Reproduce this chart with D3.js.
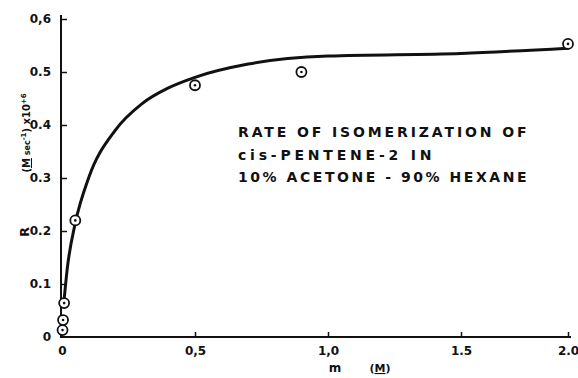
<!DOCTYPE html>
<html>
<head>
<meta charset="utf-8">
<script src="https://cdn.jsdelivr.net/npm/d3@7"></script>
<style>
  body { margin: 0; background: #fff; }
  svg { display: block; }
  text { font-family: "DejaVu Sans", "Liberation Sans", sans-serif; font-weight: bold; fill: #111; }
</style>
</head>
<body>
<div id="chart"></div>
<script>
// measured points (m in M, R in M sec^-1 x 10^6)
const pointM = [0.002, 0.004, 0.008, 0.05, 0.5, 0.9, 2.0];
const pointR = [0.013, 0.032, 0.064, 0.22, 0.475, 0.50, 0.553];

// smooth curve
const curveM = [0.006, 0.02, 0.05, 0.1, 0.2, 0.3, 0.4, 0.5, 0.7, 1.0, 1.5, 2.0];
const curveR = [0.06, 0.13, 0.215, 0.30, 0.39, 0.44, 0.47, 0.49, 0.515, 0.53, 0.535, 0.545];

const xTicks = [0, 0.5, 1.0, 1.5, 2.0];
const xTickLabels = ['0', '0,5', '1,0', '1.5', '2.0'];
const yTicks = [0, 0.1, 0.2, 0.3, 0.4, 0.5, 0.6];
const yTickLabels = ['0', '0.1', '0.2', '0.3', '0.4', '0.5', '0,6'];

const titleLines = ['RATE OF ISOMERIZATION OF', 'cis-PENTENE-2   IN', '10% ACETONE - 90% HEXANE'];

const width = 578, height = 378;

const svg = d3.select('#chart').append('svg')
  .attr('width', width)
  .attr('height', height);

// the hand-drawn axis is a bit compressed past 1.5
const x = d3.scaleLinear()
  .domain([0, 1.5, 2.0])
  .range([62, 461, 568]);

const y = d3.scaleLinear()
  .domain([0, 0.6])
  .range([337, 19]);

// axes
const xAxis = svg.append('g')
  .attr('transform', 'translate(0,' + y(0) + ')')
  .call(d3.axisBottom(x).tickValues(xTicks).tickSizeInner(-5).tickSizeOuter(0)
    .tickFormat((d, i) => xTickLabels[i]));
xAxis.select('.domain').attr('stroke', '#111').attr('stroke-width', 2)
  .attr('d', 'M' + (x(0) - 1) + ',0H' + (x(2.0) + 3));
xAxis.selectAll('.tick line').attr('stroke', '#111').attr('stroke-width', 1.5);
xAxis.selectAll('.tick text').attr('dy', '1.1em').attr('y', 5)
  .style('font-size', '12px').attr('fill', '#111');
xAxis.selectAll('.tick').filter(d => d === 0).select('line').remove();

const yAxis = svg.append('g')
  .attr('transform', 'translate(' + (x(0) - 1) + ',0)')
  .call(d3.axisLeft(y).tickValues(yTicks).tickSizeInner(-6).tickSizeOuter(0)
    .tickFormat((d, i) => yTickLabels[i]));
yAxis.select('.domain').attr('stroke', '#111').attr('stroke-width', 2)
  .attr('d', 'M0,' + (y(0) + 1) + 'V' + (y(0.6) - 4));
yAxis.selectAll('.tick line').attr('stroke', '#111').attr('stroke-width', 1.5);
yAxis.selectAll('.tick text').attr('x', -10)
  .style('font-size', '12px').attr('fill', '#111');
yAxis.selectAll('.tick').filter(d => d === 0).select('line').remove();

// axis titles
svg.append('text')
  .attr('x', 335).attr('y', 372)
  .attr('text-anchor', 'middle')
  .style('font-size', '12px')
  .text('m');
const mUnit = svg.append('text')
  .attr('x', 380).attr('y', 372)
  .attr('text-anchor', 'middle')
  .style('font-size', '11px');
mUnit.append('tspan').text('(');
mUnit.append('tspan').attr('text-decoration', 'underline').text('M');
mUnit.append('tspan').text(')');

svg.append('text')
  .attr('transform', 'translate(29,232) rotate(-90)')
  .attr('text-anchor', 'middle')
  .style('font-size', '13px')
  .text('R');

const yUnit = svg.append('text')
  .attr('transform', 'translate(30,133) rotate(-90)')
  .attr('text-anchor', 'middle')
  .style('font-size', '10px');
yUnit.append('tspan').text('(');
yUnit.append('tspan').attr('text-decoration', 'underline').text('M');
yUnit.append('tspan').style('font-size', '8px').text(' sec');
yUnit.append('tspan').style('font-size', '7px').attr('dy', -4).text('-1');
yUnit.append('tspan').attr('dy', 4).text(') x10');
yUnit.append('tspan').style('font-size', '7px').attr('dy', -4).text('+6');

// fitted curve
const curveData = curveM.map((m, i) => ({ m: m, r: curveR[i] }));
svg.append('path')
  .datum(curveData)
  .attr('fill', 'none')
  .attr('stroke', '#111')
  .attr('stroke-width', 3)
  .attr('stroke-linecap', 'round')
  .attr('d', d3.line().x(d => x(d.m)).y(d => y(d.r)).curve(d3.curveMonotoneX));

// data points: open circle with a dot in the middle
const pts = svg.selectAll('.pt')
  .data(pointM.map((m, i) => ({ m: m, r: pointR[i] })))
  .enter().append('g')
  .attr('class', 'pt')
  .attr('transform', d => 'translate(' + x(d.m) + ',' + y(d.r) + ')');
pts.append('circle').attr('r', 5).attr('fill', '#fff')
  .attr('stroke', '#111').attr('stroke-width', 1.8);
pts.append('circle').attr('r', 1.3).attr('fill', '#111');

// annotation
svg.append('g').selectAll('text')
  .data(titleLines)
  .enter().append('text')
  .attr('x', 238)
  .attr('y', (d, i) => 137 + i * 22.5)
  .style('font-size', '14px')
  .style('letter-spacing', '1.5px')
  .attr('textLength', (d, i) => i === 1 ? 195 : 290)
  .attr('lengthAdjust', 'spacing')
  .text(d => d);
</script>
</body>
</html>
